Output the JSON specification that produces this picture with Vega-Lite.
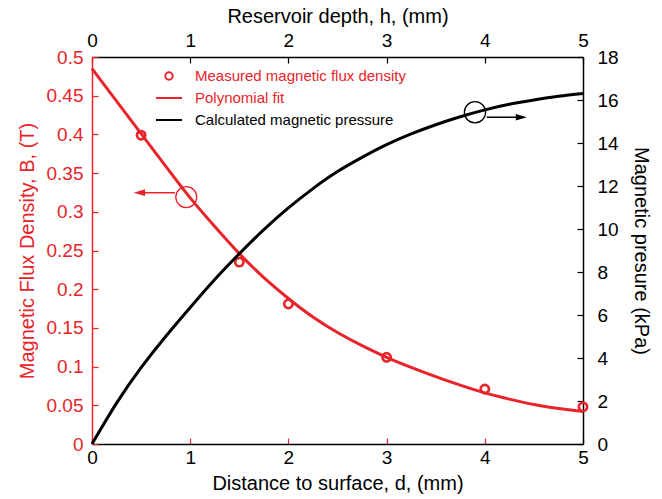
{
  "$schema": "https://vega.github.io/schema/vega-lite/v6.json",
  "width": 491,
  "height": 387,
  "autosize": {"type": "none"},
  "padding": {"left": 92, "top": 57, "right": 79, "bottom": 55},
  "background": "white",
  "config": {
    "view": {"stroke": null},
    "font": "Liberation Sans",
    "axis": {
      "grid": false,
      "labelFont": "Liberation Sans",
      "titleFont": "Liberation Sans",
      "labelFontSize": 19,
      "titleFontSize": 20,
      "titleFontWeight": "normal",
      "tickSize": -6,
      "domainWidth": 1.5,
      "tickWidth": 1.2,
      "labelColor": "black",
      "titleColor": "black",
      "domainColor": "black",
      "tickColor": "black",
      "labelFlush": false,
      "labelOverlap": false
    }
  },
  "datasets": {
    "fit": [
      {"d": 0, "B": 0.485}, {"d": 0.25, "B": 0.443}, {"d": 0.5, "B": 0.401}, {"d": 0.75, "B": 0.359},
      {"d": 1, "B": 0.318}, {"d": 1.25, "B": 0.281}, {"d": 1.5, "B": 0.246}, {"d": 1.75, "B": 0.215},
      {"d": 2, "B": 0.188}, {"d": 2.25, "B": 0.164}, {"d": 2.5, "B": 0.144}, {"d": 2.75, "B": 0.127},
      {"d": 3, "B": 0.112}, {"d": 3.25, "B": 0.099}, {"d": 3.5, "B": 0.087}, {"d": 3.75, "B": 0.076},
      {"d": 4, "B": 0.066}, {"d": 4.25, "B": 0.058}, {"d": 4.5, "B": 0.051}, {"d": 4.75, "B": 0.046},
      {"d": 5, "B": 0.042}
    ],
    "measured": [
      {"d": 0.5, "B": 0.399}, {"d": 1.5, "B": 0.235}, {"d": 2, "B": 0.181},
      {"d": 3, "B": 0.112}, {"d": 4, "B": 0.071}, {"d": 5, "B": 0.048}
    ],
    "pressure": [
      {"d": 0, "P": 0}, {"d": 0.25, "P": 1.9}, {"d": 0.5, "P": 3.55}, {"d": 0.75, "P": 5.0},
      {"d": 1, "P": 6.35}, {"d": 1.25, "P": 7.65}, {"d": 1.5, "P": 8.85}, {"d": 1.75, "P": 9.97},
      {"d": 2, "P": 10.98}, {"d": 2.25, "P": 11.88}, {"d": 2.5, "P": 12.67}, {"d": 2.75, "P": 13.33},
      {"d": 3, "P": 13.92}, {"d": 3.25, "P": 14.42}, {"d": 3.5, "P": 14.85}, {"d": 3.75, "P": 15.22},
      {"d": 4, "P": 15.54}, {"d": 4.25, "P": 15.8}, {"d": 4.5, "P": 16.0}, {"d": 4.75, "P": 16.17},
      {"d": 5, "P": 16.3}
    ],
    "markLeft": [{"d": 0.96, "B": 0.319}],
    "arrowLeft": [{"d": 0.845, "d2": 0.482, "B": 0.3247}],
    "headLeft": [{"d": 0.482, "B": 0.3247}],
    "markRight": [{"d": 3.9, "P": 15.43}],
    "arrowRight": [{"d": 4.02, "d2": 4.372, "P": 15.2}],
    "headRight": [{"d": 4.372, "P": 15.2}]
  },
  "layer": [
    {
      "encoding": {
        "x": {
          "field": "d", "type": "quantitative",
          "scale": {"domain": [0, 5], "nice": false},
          "axis": {"orient": "bottom", "title": "Distance to surface, d, (mm)", "values": [0, 1, 2, 3, 4, 5],
                   "tickColor": "#e8242a", "labelPadding": 10, "titlePadding": 6}
        },
        "y": {
          "field": "B", "type": "quantitative",
          "scale": {"domain": [0, 0.5], "nice": false},
          "axis": {"orient": "left", "title": "Magnetic Flux Density, B, (T)",
                   "values": [0, 0.05, 0.1, 0.15, 0.2, 0.25, 0.3, 0.35, 0.4, 0.45, 0.5], "format": "~g",
                   "domainColor": "#e8242a", "tickColor": "#e8242a", "labelColor": "#e8242a", "titleColor": "#e8242a",
                   "labelPadding": 15, "titlePadding": 9}
        }
      },
      "layer": [
        {
          "data": {"name": "fit"},
          "mark": {"type": "line", "strokeWidth": 3, "interpolate": "natural"},
          "encoding": {
            "color": {
              "datum": "Polynomial fit", "type": "nominal",
              "scale": {"domain": ["Measured magnetic flux density", "Polynomial fit", "Calculated magnetic pressure"], "range": ["#e8242a", "#e8242a", "black"]},
              "legend": {
                "orient": "none", "legendX": 63, "legendY": 5, "title": null,
                "symbolType": "stroke", "symbolSize": 676, "symbolStrokeWidth": 2,
                "labelFont": "Liberation Sans", "labelFontSize": 15, "labelOffset": 12, "rowPadding": 0, "padding": 0, "labelLimit": 400,
                "encode": {
                  "symbols": {"update": {
                    "shape": {"signal": "datum.value === 'Measured magnetic flux density' ? 'circle' : 'stroke'"},
                    "size": {"signal": "datum.value === 'Measured magnetic flux density' ? 55 : 676"},
                    "fill": {"value": "transparent"},
                    "stroke": {"signal": "datum.value === 'Calculated magnetic pressure' ? 'black' : '#e8242a'"},
                    "strokeWidth": {"value": 2},
                    "opacity": {"value": 1}
                  }},
                  "labels": {"update": {
                    "fill": {"signal": "datum.value === 'Calculated magnetic pressure' ? 'black' : '#e8242a'"}
                  }}
                }
              }
            }
          }
        },
        {
          "data": {"name": "measured"},
          "mark": {"type": "point", "filled": false, "size": 70, "strokeWidth": 2.6, "opacity": 1},
          "encoding": {
            "color": {"datum": "Measured magnetic flux density", "type": "nominal"}
          }
        },
        {
          "data": {"name": "markLeft"},
          "mark": {"type": "point", "shape": "circle", "filled": false, "size": 440, "strokeWidth": 1.3, "color": "#e8242a", "opacity": 1}
        },
        {
          "data": {"name": "arrowLeft"},
          "mark": {"type": "rule", "strokeWidth": 1.5, "color": "#e8242a"},
          "encoding": {"x2": {"field": "d2"}}
        },
        {
          "data": {"name": "headLeft"},
          "mark": {"type": "point", "shape": "M-1,0L1,-0.6L1,0.6Z", "filled": true, "size": 130, "strokeWidth": 0, "color": "#e8242a", "opacity": 1}
        }
      ]
    },
    {
      "encoding": {
        "x": {
          "field": "d", "type": "quantitative",
          "scale": {"domain": [0, 5], "nice": false},
          "axis": {"orient": "top", "title": "Reservoir depth, h, (mm)", "values": [0, 1, 2, 3, 4, 5],
                   "labelPadding": 13, "titlePadding": 5}
        },
        "y": {
          "field": "P", "type": "quantitative",
          "scale": {"domain": [0, 18], "nice": false},
          "axis": {"orient": "right", "title": "Magnetic presure (kPa)", "values": [0, 2, 4, 6, 8, 10, 12, 14, 16, 18],
                   "labelPadding": 20, "titlePadding": 12}
        }
      },
      "layer": [
        {
          "data": {"name": "pressure"},
          "mark": {"type": "line", "strokeWidth": 3, "interpolate": "natural"},
          "encoding": {
            "color": {"datum": "Calculated magnetic pressure", "type": "nominal"}
          }
        },
        {
          "data": {"name": "markRight"},
          "mark": {"type": "point", "shape": "circle", "filled": false, "size": 450, "strokeWidth": 1.3, "color": "black", "opacity": 1}
        },
        {
          "data": {"name": "arrowRight"},
          "mark": {"type": "rule", "strokeWidth": 1.5, "color": "black"},
          "encoding": {"x2": {"field": "d2"}}
        },
        {
          "data": {"name": "headRight"},
          "mark": {"type": "point", "shape": "M1,0L-1,-0.6L-1,0.6Z", "filled": true, "size": 121, "strokeWidth": 0, "color": "black", "opacity": 1}
        }
      ]
    }
  ],
  "resolve": {"scale": {"y": "independent"}, "axis": {"x": "independent", "y": "independent"}}
}
